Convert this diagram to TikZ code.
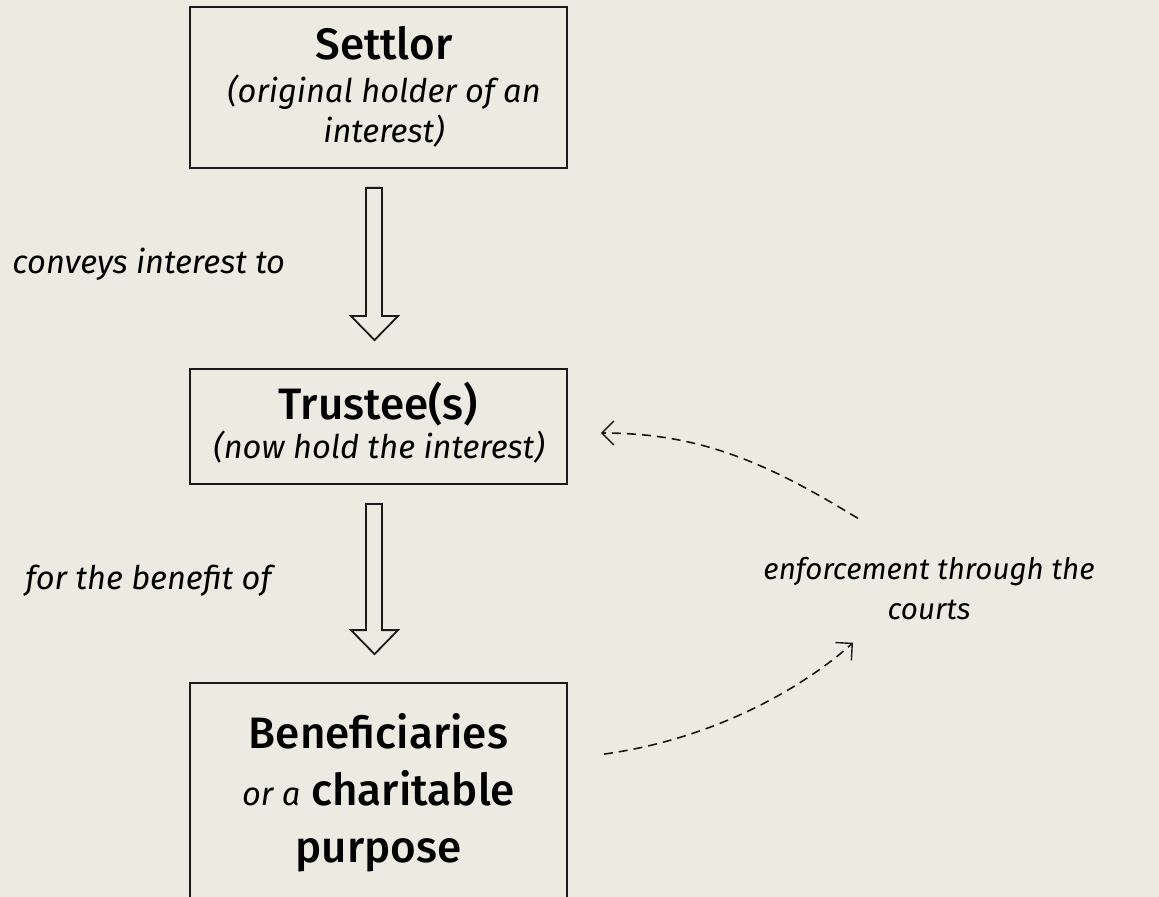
\documentclass[tikz,border=0pt]{standalone}
\usepackage{fontspec}
\setmainfont{Fira Sans}[BoldFont={Fira Sans Medium}]
\usetikzlibrary{calc,arrows.meta}
\definecolor{bg}{HTML}{ECEBE1}
\definecolor{ink}{HTML}{1A1A1A}
\begin{document}
\begin{tikzpicture}[x=0.5pt,y=-0.5pt,
  box/.style={draw=ink,line width=0.9pt,minimum width=188.5pt,inner sep=0pt},
  ttl/.style={anchor=base,font=\fontsize{22}{26}\selectfont\bfseries,text=black,inner sep=0pt},
  sub/.style={anchor=base,font=\fontsize{16.3}{19}\selectfont\itshape,text=black,inner sep=0pt},
  lbl/.style={anchor=base,font=\fontsize{16.3}{19}\selectfont\itshape,text=black,inner sep=0pt},
  blockarrow/.style={draw=ink,line width=0.9pt,line join=miter},
  enf/.style={draw=ink,line width=0.8pt,dash pattern=on 4.5pt off 3pt,-{Straight Barb[length=6pt,width=12pt,line width=0.7pt]}}]
\fill[bg] (0,0) rectangle (1159,897);
\clip (0,0) rectangle (1159,897);
% boxes
\node[box,minimum height=80.5pt] (settlor) at (378.5,87.5) {};
\node[box,minimum height=57.5pt] (trustee) at (378.5,426.5) {};
\node[box,minimum height=118.5pt] (bene) at (378.5,801.5) {};
% box texts
\node[ttl] (t1) at (384,60) {Settlor};
\node[sub] (t1b) at (384,103) {(original holder of an};
\node[sub] (t1c) at (384,143) {interest)};
\node[ttl] (t2) at (378.5,419) {Trustee(s)};
\node[sub] (t2b) at (379,458) {(now hold the interest)};
\node[ttl] (t3) at (378.5,748) {Beneficiaries};
\node[ttl] (t3b) at (378.5,805) {\textit{\fontsize{16.3}{19}\selectfont\mdseries or a} charitable};
\node[ttl] (t3c) at (378.5,862) {purpose};
% labels
\node[lbl,anchor=base west] (l1) at (12,274) {conveys interest to};
\node[lbl,anchor=base west] (l2) at (25,589) {for the benefit of};
\node[lbl,font=\fontsize{14.8}{18}\selectfont\itshape] (l3) at (929,579) {enforcement through the};
\node[lbl,font=\fontsize{14.8}{18}\selectfont\itshape] (l3b) at (929,619) {courts};
% block arrows
\foreach \a/\b in {settlor/trustee,trustee/bene}{
  \draw[blockarrow]
    ($(\a.south)+(-12.5,19)$) -- ($(\a.south)+(3.5,19)$) --
    ($(\b.north)+(3.5,-52)$) -- ($(\b.north)+(19.5,-52)$) --
    ($(\b.north)+(-4,-28)$) -- ($(\b.north)+(-27.5,-52)$) --
    ($(\b.north)+(-12.5,-52)$) -- cycle;
}
% enforcement arrows
\coordinate (e1s) at ($(l3.north)+(-71,-38)$);
\coordinate (e1e) at ($(trustee.east)+(33,6.5)$);
\draw[enf] (e1s) .. controls ($(e1s)+(-90,-55)$) and ($(e1e)+(100,0)$) .. (e1e);
\coordinate (e2s) at ($(bene.north east)+(36,72)$);
\coordinate (e2e) at ($(l3b.south)+(-76,23)$);
\draw[enf] (e2s) .. controls ($(e2s)+(110,-15)$) and ($(e2e)+(-50,45)$) .. (e2e);
\end{tikzpicture}
\end{document}
